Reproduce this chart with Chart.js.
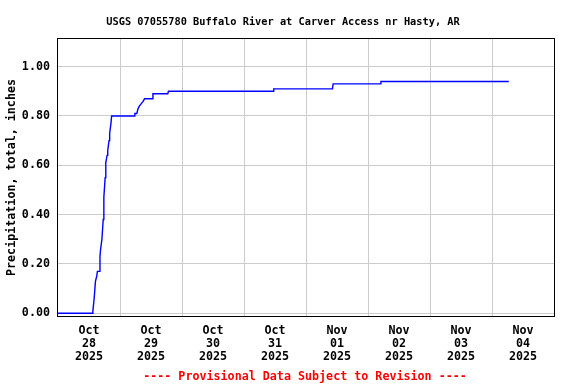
<!DOCTYPE html>
<html>
<head>
<meta charset="utf-8">
<script src="https://cdn.jsdelivr.net/npm/chart.js@4/dist/chart.umd.min.js"></script>
<style>
  html, body { margin: 0; padding: 0; background: #ffffff; }
  #wrap { width: 576px; height: 384px; }
</style>
</head>
<body>
<div id="wrap"><canvas id="c" width="576" height="384"></canvas></div>
<script>
// ---- data (hours since Oct 28 2025 00:00, cumulative precipitation in inches) ----
const hoursSinceStart = [0, 13.25, 13.5, 14.0, 14.5, 15.0, 15.25, 16.0, 16.25, 16.5, 17.0, 17.25, 17.5,
  17.75, 18.25, 18.5, 19.0, 19.25, 19.75, 20.0, 20.5, 20.75, 29.5, 29.75, 30.5, 31.0, 31.5, 32.25,
  33.0, 33.5, 36.5, 36.75, 42.5, 42.75, 83.25, 83.5, 106.25, 106.5, 124.75, 125.0, 174.5];
const precipInches = [0.00, 0.00, 0.01, 0.06, 0.13, 0.15, 0.17, 0.17, 0.23, 0.26, 0.30, 0.34, 0.38,
  0.47, 0.55, 0.61, 0.64, 0.66, 0.70, 0.73, 0.77, 0.80, 0.80, 0.81, 0.81, 0.83, 0.84, 0.85,
  0.86, 0.87, 0.87, 0.89, 0.89, 0.90, 0.90, 0.91, 0.91, 0.93, 0.93, 0.94, 0.94];
const dayLabels = [
  ['Oct', '28', '2025'], ['Oct', '29', '2025'], ['Oct', '30', '2025'], ['Oct', '31', '2025'],
  ['Nov', '01', '2025'], ['Nov', '02', '2025'], ['Nov', '03', '2025'], ['Nov', '04', '2025']
];
const yTickValues = [0.0, 0.2, 0.4, 0.6, 0.8, 1.0];
const titleText = 'USGS 07055780 Buffalo River at Carver Access nr Hasty, AR';
const yAxisTitle = 'Precipitation, total, inches';
const footerText = '---- Provisional Data Subject to Revision ----';

const points = hoursSinceStart.map((h, i) => ({ x: h, y: precipInches[i] }));
const MONO = '"DejaVu Sans Mono", monospace';

const frame = {
  id: 'frame',
  afterDatasetsDraw(chart) {
    const a = chart.chartArea, ctx = chart.ctx;
    ctx.save();
    ctx.strokeStyle = '#000000';
    ctx.lineWidth = 1;
    ctx.strokeRect(Math.round(a.left) - 0.5, Math.round(a.top) - 0.5,
      Math.round(a.right) - Math.round(a.left) + 1, Math.round(a.bottom) - Math.round(a.top) + 1);
    ctx.restore();
  }
};

const texts = {
  id: 'texts',
  afterDraw(chart) {
    const ctx = chart.ctx;
    ctx.save();
    ctx.textAlign = 'center';
    ctx.textBaseline = 'alphabetic';
    ctx.fillStyle = '#000000';
    ctx.font = 'bold 10.3px ' + MONO;
    ctx.fillText(titleText, 283, 24.5);
    ctx.fillStyle = '#ff0000';
    ctx.font = 'bold 11.7px ' + MONO;
    ctx.fillText(footerText, 305, 380);
    ctx.restore();
  }
};

new Chart(document.getElementById('c'), {
  type: 'line',
  data: {
    datasets: [{
      data: points,
      borderColor: '#0000ff',
      borderWidth: 1.4,
      pointRadius: 0,
      tension: 0,
      fill: false
    }]
  },
  options: {
    responsive: false,
    animation: false,
    events: [],
    layout: { padding: { left: 0, right: 22, top: 39, bottom: 15.5 } },
    plugins: {
      legend: { display: false },
      tooltip: { enabled: false },
      title: { display: false }
    },
    scales: {
      x: {
        type: 'linear',
        min: 0,
        max: 192,
        afterFit(scale) { scale.height = 52.5; },
        afterBuildTicks(scale) {
          const t = [];
          for (let v = 0; v <= 192; v += 12) t.push({ value: v });
          scale.ticks = t;
        },
        ticks: {
          autoSkip: false,
          maxRotation: 0,
          minRotation: 0,
          padding: 8,
          color: '#000000',
          font: { family: MONO, size: 11.7, weight: 'bold', lineHeight: 1.12 },
          callback(v) {
            if (v % 24 === 12) return dayLabels[(v - 12) / 24];
            return '';
          }
        },
        grid: {
          drawTicks: false,
          color(ctx) {
            const v = ctx.tick ? ctx.tick.value : -1;
            return (v % 24 === 0 && v > 0 && v < 192) ? '#cccccc' : 'rgba(0,0,0,0)';
          },
          lineWidth: 1
        },
        border: { display: false }
      },
      y: {
        type: 'linear',
        min: -0.011,
        max: 1.112,
        afterFit(scale) { scale.width = 58; },
        afterBuildTicks(scale) {
          scale.ticks = yTickValues.map(v => ({ value: v }));
        },
        ticks: {
          padding: 8,
          color: '#000000',
          font: { family: MONO, size: 11.7, weight: 'bold' },
          callback(v) { return Number(v).toFixed(2); }
        },
        grid: {
          drawTicks: false,
          color: '#cccccc',
          lineWidth: 1
        },
        border: { display: false },
        title: {
          display: true,
          text: yAxisTitle,
          color: '#000000',
          font: { family: MONO, size: 11.7, weight: 'bold', lineHeight: 1.2 },
          padding: { top: 5, bottom: 0 }
        }
      }
    }
  },
  plugins: [frame, texts]
});
</script>
</body>
</html>
